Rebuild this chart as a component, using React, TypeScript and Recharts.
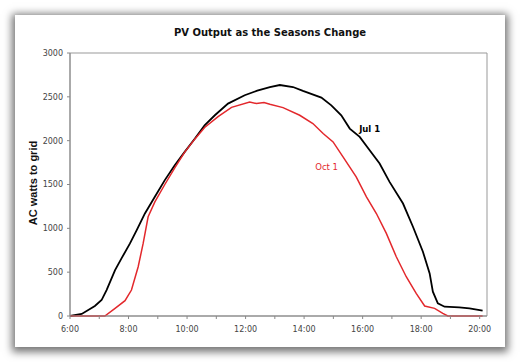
import {
  LineChart,
  Line,
  XAxis,
  YAxis,
  ReferenceArea,
  ReferenceDot,
} from 'recharts';

// hours of day (decimal) and AC watts
const julHours = [
  6.0, 6.4, 6.85, 7.08, 7.25, 7.54, 7.76, 8.05, 8.28, 8.56, 8.9, 9.24, 9.58, 9.92,
  10.27, 10.6, 10.95, 11.4, 11.97, 12.4, 12.83, 13.17, 13.62, 13.96, 14.59, 14.93,
  15.27, 15.56, 15.9, 16.24, 16.58, 16.92, 17.38, 17.72, 18.06, 18.29, 18.4, 18.57,
  18.8, 19.3, 19.65, 20.1,
];
const julWatts = [
  0, 23, 114, 182, 296, 524, 657, 828, 980, 1170, 1360, 1550, 1720, 1872,
  2024, 2176, 2290, 2423, 2518, 2570, 2612, 2635, 2612, 2567, 2491, 2403,
  2290, 2138, 2043, 1891, 1739, 1530, 1283, 1018, 733, 486, 277, 144,
  106, 99, 87, 61,
];

const octHours = [
  6.0, 7.19, 7.54, 7.88, 8.1, 8.33, 8.5, 8.67, 8.9, 9.24, 9.58, 9.92, 10.27, 10.6,
  11.06, 11.52, 12.14, 12.37, 12.63, 12.83, 13.28, 13.85, 14.3, 14.65, 14.99, 15.33,
  15.78, 16.13, 16.47, 16.81, 17.15, 17.49, 17.83, 18.12, 18.46, 18.74, 18.91, 20.1,
];
const octWatts = [
  0, 0, 87, 175, 296, 562, 828, 1132, 1302, 1500, 1690, 1870, 2020, 2150,
  2275, 2380, 2442, 2423, 2434, 2415, 2377, 2290, 2195, 2081, 1986, 1815,
  1587, 1359, 1169, 942, 676, 448, 258, 114, 87, 30, 0, 0,
];

const hourTicks = [6, 7, 8, 9, 10, 11, 12, 13, 14, 15, 16, 17, 18, 19, 20];
const wattTicks = [0, 500, 1000, 1500, 2000, 2500, 3000];

const julData = julHours.map((h, i) => ({ h, w: julWatts[i] }));
const octData = octHours.map((h, i) => ({ h, w: octWatts[i] }));

const tickFont = { fontFamily: 'DejaVu Sans', fontSize: 8, fill: '#444' };

export default function App() {
  return (
    <div style={{ position: 'absolute', left: 0, top: 0, width: 520, height: 362, background: '#fff' }}>
      <div
        style={{
          position: 'absolute',
          left: 15,
          top: 15,
          width: 490,
          height: 332,
          background: '#fff',
          boxShadow: '0 2px 8px 3px rgba(0,0,0,0.55)',
        }}
      />
      <div
        style={{
          position: 'absolute',
          left: 120,
          width: 300,
          top: 27,
          textAlign: 'center',
          fontFamily: 'DejaVu Sans',
          fontWeight: 'bold',
          fontSize: 10,
          color: '#111',
        }}
      >
        PV Output as the Seasons Change
      </div>
      <div
        style={{
          position: 'absolute',
          left: 33,
          top: 183,
          transform: 'translate(-50%, -50%) rotate(-90deg)',
          whiteSpace: 'nowrap',
          fontFamily: 'Liberation Sans',
          fontWeight: 'bold',
          fontSize: 11,
          color: '#111',
        }}
      >
        AC watts to grid
      </div>
      <div style={{ position: 'absolute', left: 0, top: 0 }}>
        <LineChart width={520} height={362} margin={{ top: 53, right: 33, bottom: 26, left: 40 }}>
          <XAxis
            dataKey="h"
            type="number"
            domain={[6, 20.25]}
            ticks={hourTicks}
            allowDataOverflow
            tickFormatter={(v) => (v % 2 === 0 ? `${v}:00` : '')}
            tick={tickFont}
            tickSize={3}
            tickMargin={7}
            height={20}
            stroke="#888"
          />
          <YAxis
            dataKey="w"
            type="number"
            domain={[0, 3000]}
            ticks={wattTicks}
            tick={tickFont}
            tickSize={3}
            tickMargin={4}
            width={30}
            stroke="#888"
          />
          <ReferenceArea x1={6} x2={20.25} y1={0} y2={3000} fill="none" stroke="#999" strokeWidth={1} />
          <Line
            data={julData}
            dataKey="w"
            type="linear"
            stroke="#000"
            strokeWidth={1.8}
            dot={false}
            isAnimationActive={false}
          />
          <Line
            data={octData}
            dataKey="w"
            type="linear"
            stroke="#e3282c"
            strokeWidth={1.5}
            dot={false}
            isAnimationActive={false}
          />
          <ReferenceDot
            x={16.24}
            y={2130}
            r={0}
            stroke="none"
            label={{ value: 'Jul 1', position: 'center', fill: '#000', fontSize: 8.5, fontWeight: 'bold', fontFamily: 'DejaVu Sans' }}
          />
          <ReferenceDot
            x={14.77}
            y={1698}
            r={0}
            stroke="none"
            label={{ value: 'Oct 1', position: 'center', fill: '#e3282c', fontSize: 8.5, fontFamily: 'DejaVu Sans' }}
          />
        </LineChart>
      </div>
    </div>
  );
}
